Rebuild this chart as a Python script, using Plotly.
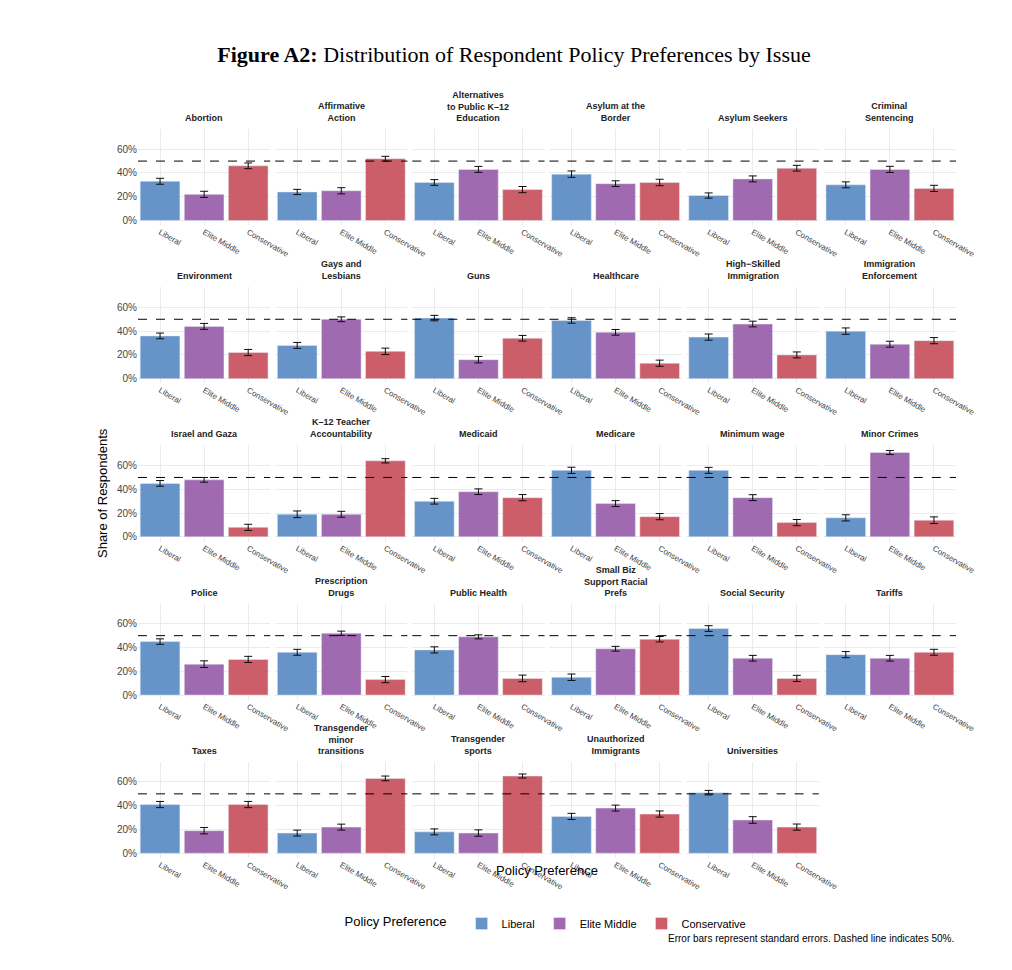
import plotly.graph_objects as go
from plotly.subplots import make_subplots

issues = ["Abortion", "Affirmative<br>Action", "Alternatives<br>to Public K\u201312<br>Education", "Asylum at the<br>Border",
          "Asylum Seekers", "Criminal<br>Sentencing", "Environment", "Gays and<br>Lesbians", "Guns", "Healthcare",
          "High\u2212Skilled<br>Immigration", "Immigration<br>Enforcement", "Israel and Gaza", "K\u201312 Teacher<br>Accountability",
          "Medicaid", "Medicare", "Minimum wage", "Minor Crimes", "Police", "Prescription<br>Drugs", "Public Health",
          "Small Biz<br>Support Racial<br>Prefs", "Social Security", "Tariffs", "Taxes", "Transgender<br>minor<br>transitions",
          "Transgender<br>sports", "Unauthorized<br>Immigrants", "Universities"]
groups = ["Liberal", "Elite Middle", "Conservative"]
liberal = [33, 24, 32, 39, 21, 30, 36, 28, 51, 49, 35, 40, 45, 19, 30, 56, 56, 16, 45, 36, 38, 15, 56, 34, 41, 17, 18, 31, 51]
elite = [22, 25, 43, 31, 35, 43, 44, 50, 16, 39, 46, 29, 48, 19, 38, 28, 33, 71, 26, 52, 49, 39, 31, 31, 19, 22, 17, 38, 28]
conserv = [46, 52, 26, 32, 44, 27, 22, 23, 34, 13, 20, 32, 8, 64, 33, 17, 12, 14, 30, 13, 14, 47, 14, 36, 41, 63, 65, 33, 22]
se_lib = [2.5, 2.2, 2.4, 2.7, 2.2, 2.5, 2.4, 2.5, 2.3, 2.3, 2.6, 2.7, 2.4, 2.8, 2.4, 2.6, 2.5, 2.6, 2.3, 2.5, 2.6, 2.7, 2.4, 2.6, 2.6, 2.5, 2.5, 2.6, 1.9]
se_eli = [2.6, 2.6, 2.5, 2.4, 2.5, 2.6, 2.5, 2.0, 2.7, 2.4, 2.4, 2.5, 2.0, 2.5, 2.4, 2.5, 2.5, 1.7, 2.8, 1.8, 1.7, 2.0, 2.4, 2.4, 2.7, 2.5, 2.7, 2.5, 2.8]
se_con = [2.4, 2.0, 2.6, 2.7, 2.4, 2.6, 2.6, 2.7, 2.4, 2.6, 2.5, 2.6, 2.6, 1.8, 2.6, 2.6, 2.6, 2.8, 2.6, 2.6, 2.8, 2.3, 2.6, 2.5, 2.6, 2.0, 1.7, 2.6, 2.6]
colors = ["#5f8fc6", "#9a63ab", "#c95661"]

fig = make_subplots(rows=5, cols=6, horizontal_spacing=0.006, vertical_spacing=0.085)

for i, name in enumerate(issues):
    r, c = i // 6 + 1, i % 6 + 1
    for g, vals, se, col in zip(groups, [liberal, elite, conserv], [se_lib, se_eli, se_con], colors):
        fig.add_trace(go.Bar(
            x=[g], y=[vals[i] / 100], name=g, marker_color=col, opacity=0.95,
            error_y=dict(type="data", array=[se[i] / 100], color="black", thickness=1, width=4),
            showlegend=(i == 0), legendgroup=g, width=0.9,
        ), row=r, col=c)
    fig.add_hline(y=0.5, line=dict(color="black", width=1, dash="dash"), row=r, col=c)
    xa = fig.get_subplot(r, c).xaxis
    ya = fig.get_subplot(r, c).yaxis
    fig.add_annotation(text="<b>" + name + "</b>", x=(xa.domain[0] + xa.domain[1]) / 2, y=ya.domain[1],
                       xref="paper", yref="paper", xanchor="center", yanchor="bottom", yshift=4,
                       showarrow=False, font=dict(size=9, color="#222"))

fig.update_xaxes(showgrid=True, gridcolor="#ebebeb", tickfont=dict(size=8, color="#444"), ticks="",
                 categoryorder="array", categoryarray=groups)
fig.update_yaxes(range=[-0.04, 0.77], tickvals=[0, 0.2, 0.4, 0.6], ticktext=["0%", "20%", "40%", "60%"],
                 showgrid=True, gridcolor="#ebebeb", zeroline=False, tickfont=dict(size=10, color="#444"),
                 showticklabels=False)
for r in range(1, 6):
    fig.update_yaxes(showticklabels=True, row=r, col=1)
fig.update_xaxes(visible=False, row=5, col=6)
fig.update_yaxes(visible=False, row=5, col=6)

fig.add_annotation(text="Share of Respondents", x=-0.055, y=0.5, xref="paper", yref="paper", textangle=-90,
                   showarrow=False, font=dict(size=13, color="black"))
fig.add_annotation(text="Policy Preference", x=0.5, y=0, xref="paper", yref="paper", yshift=-22,
                   showarrow=False, font=dict(size=13, color="black"))
fig.add_annotation(text="Error bars represent standard errors. Dashed line indicates 50%.", x=1.0, y=0,
                   xref="paper", yref="paper", xanchor="right", yshift=-88, showarrow=False,
                   font=dict(size=10, color="black"))

fig.update_layout(
    width=1012, height=970,
    title=dict(text="<b>Figure A2:</b> Distribution of Respondent Policy Preferences by Issue", x=0.5, y=0.96,
               xanchor="center", font=dict(family="Liberation Serif", size=22, color="black")),
    font=dict(family="Liberation Sans", color="black"),
    plot_bgcolor="white", paper_bgcolor="white",
    margin=dict(l=130, r=64, t=121, b=120),
    barmode="group", bargap=0.1,
    legend=dict(orientation="h", x=0.5, xanchor="center", y=-0.07, yanchor="top",
                title=dict(text="Policy Preference  ", font=dict(size=13)), font=dict(size=11)),
)

fig.write_html("out.html")
